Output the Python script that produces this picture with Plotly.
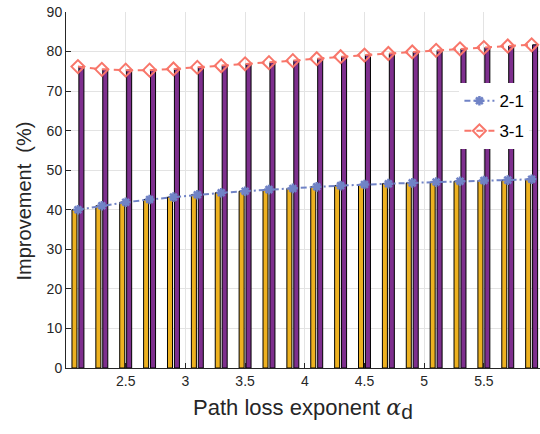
import plotly.graph_objects as go

# Path loss exponent values (one group of bars per value)
alpha_d = [2.1, 2.3, 2.5, 2.7, 2.9, 3.1, 3.3, 3.5, 3.7, 3.9,
           4.1, 4.3, 4.5, 4.7, 4.9, 5.1, 5.3, 5.5, 5.7, 5.9]

# Improvement (%) of scheme 2 over 1 and scheme 3 over 1
improve_2_1 = [40.0, 41.0, 41.9, 42.6, 43.2, 43.8, 44.3, 44.7, 45.1, 45.4,
               45.8, 46.1, 46.4, 46.6, 46.8, 47.0, 47.2, 47.4, 47.5, 47.7]
improve_3_1 = [76.2, 75.5, 75.3, 75.3, 75.6, 76.0, 76.4, 76.9, 77.2, 77.7,
               78.2, 78.7, 79.1, 79.5, 79.9, 80.3, 80.7, 81.0, 81.4, 81.7]

x_tick_vals = [2.5, 3, 3.5, 4, 4.5, 5, 5.5]
x_tick_text = ["2.5", "3", "3.5", "4", "4.5", "5", "5.5"]
y_tick_vals = [0, 10, 20, 30, 40, 50, 60, 70, 80, 90]

YELLOW = "#EDB120"
PURPLE = "#7E2F8E"
BLUE = "#7083C6"
RED = "#F8766A"
AXIS = "#262626"
GRID = "#E3E3E3"
FONT = "Liberation Sans, Arial, sans-serif"

fig = go.Figure()

fig.add_trace(go.Bar(
    x=alpha_d, y=improve_2_1, width=0.042, offset=-0.05,
    marker=dict(color=YELLOW, line=dict(color="black", width=1)),
    showlegend=False, hoverinfo="skip",
))
fig.add_trace(go.Bar(
    x=alpha_d, y=improve_3_1, width=0.042, offset=0.008,
    marker=dict(color=PURPLE, line=dict(color="black", width=1)),
    showlegend=False, hoverinfo="skip",
))

fig.add_trace(go.Scatter(
    x=alpha_d, y=improve_2_1, mode="lines+markers", name="2-1",
    legendgroup="a",
    line=dict(color=BLUE, width=2, dash="6px,3px,2px,3px"),
    marker=dict(symbol="asterisk-open", size=8, color=BLUE,
                line=dict(color=BLUE, width=2.5)),
))
fig.add_trace(go.Scatter(
    x=alpha_d, y=improve_3_1, mode="lines+markers", name="3-1",
    legendgroup="b",
    line=dict(color=RED, width=2, dash="7px,5px"),
    marker=dict(symbol="diamond-open", size=10, color=RED,
                line=dict(color=RED, width=2)),
))

fig.update_layout(
    width=540, height=434,
    margin=dict(l=66, r=0, t=12, b=66),
    paper_bgcolor="white", plot_bgcolor="white",
    barmode="overlay",
    font=dict(family=FONT, color=AXIS, size=14),
    showlegend=True,
    legend=dict(
        x=0.83, y=0.80, xanchor="left", yanchor="top",
        bgcolor="white", borderwidth=0,
        font=dict(family=FONT, size=17, color="black"),
        tracegroupgap=5, traceorder="grouped",
    ),
    annotations=[dict(
        text="Improvement&nbsp;&nbsp;(%)",
        xref="paper", yref="paper", x=-0.089, y=0.47,
        xanchor="center", yanchor="middle", textangle=-90,
        showarrow=False, font=dict(family=FONT, size=20, color=AXIS),
    )],
)

fig.update_xaxes(
    range=[2.0, 5.97],
    tickvals=x_tick_vals, ticktext=x_tick_text,
    ticks="inside", ticklen=5, tickcolor=AXIS, tickwidth=1,
    showline=True, linecolor=AXIS, linewidth=1,
    showgrid=True, gridcolor=GRID, gridwidth=1,
    zeroline=False,
    tickfont=dict(family=FONT, size=14, color=AXIS),
    title=dict(
        text="Path loss exponent <span style=\"font-family:DejaVu Serif\"><i>α</i></span>"
             "<sub><span style=\"font-size:21px\">d</span></sub>",
        font=dict(family=FONT, size=22, color=AXIS), standoff=11,
    ),
)
fig.update_yaxes(
    range=[0, 90],
    tickvals=y_tick_vals,
    ticks="inside", ticklen=5, tickcolor=AXIS, tickwidth=1,
    showline=True, linecolor=AXIS, linewidth=1,
    showgrid=True, gridcolor=GRID, gridwidth=1,
    zeroline=False,
    tickfont=dict(family=FONT, size=14, color=AXIS),
)

fig.write_html("out.html")
